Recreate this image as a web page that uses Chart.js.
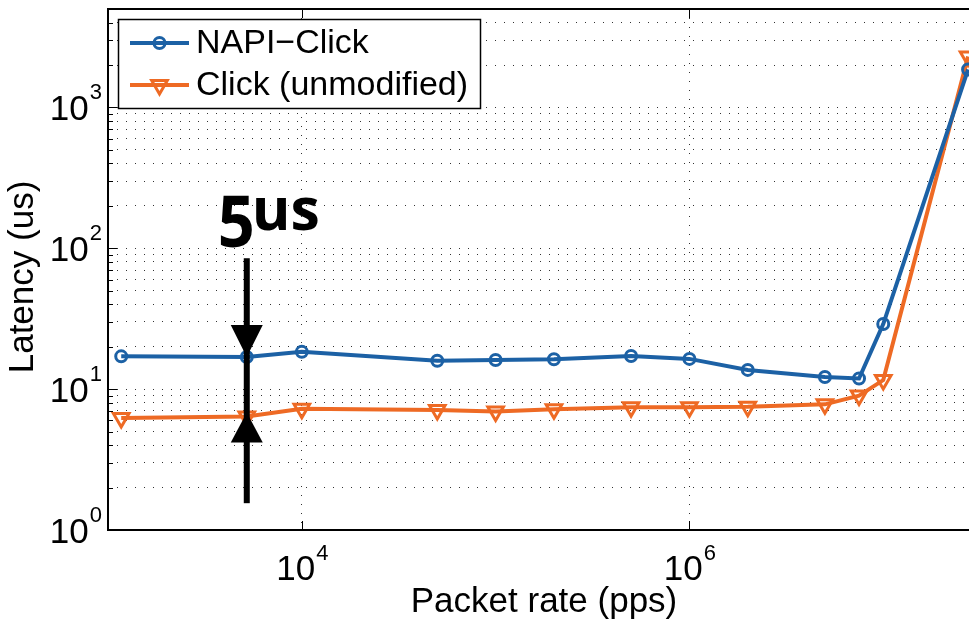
<!DOCTYPE html>
<html>
<head>
<meta charset="utf-8">
<script src="https://cdn.jsdelivr.net/npm/chart.js@4/dist/chart.umd.min.js"></script>
<style>
  html, body { margin: 0; padding: 0; background: #fff; }
  canvas { display: block; }
</style>
</head>
<body>
<canvas id="myChart" width="969" height="621"></canvas>
<script>
// datos
var rates = [1170, 5200, 1e4, 5e4, 1e5, 2e5, 5e5, 1e6, 2e6, 5e6, 7.5e6, 1e7, 2.74e7];
var napiLatency = [17.1, 16.9, 18.4, 15.9, 16.1, 16.3, 17.2, 16.4, 13.7, 12.2, 11.9, 29.0, 1860];
var clickLatency = [6.25, 6.4, 7.25, 7.1, 6.95, 7.2, 7.45, 7.45, 7.5, 7.8, 9.0, 11.6, 2300];
var seriesLabels = ["NAPI\u2212Click", "Click (unmodified)"];

var xTicks = [1e4, 1e6];
var xTickExp = ["4", "6"];
var yTicks = [1, 10, 100, 1000];
var yTickExp = ["0", "1", "2", "3"];
var xRange = [1000, 2.77e7];
var yRange = [1, 5000];

var annotText = ["5", "us"];
var annotRange = [85, 1.55];

var azul = "#1c61a5";
var naranja = "#ee6a24";
var fuente = "'Liberation Sans', Arial, sans-serif";

function puntos(valores) {
    return rates.map(function (r, i) { return { x: r, y: valores[i] }; });
}

function minorTicks() {
    var out = [];
    yTicks.forEach(function (d) {
        for (var m = 1; m <= 9; m++) {
            if (d * m <= yRange[1]) out.push(d * m);
        }
    });
    return out;
}

var marcoPlugin = {
    id: "marco",
    afterDatasetsDraw: function (chart) {
        var ctx = chart.ctx;
        var xs = chart.scales.x, ys = chart.scales.y;

        // flecha de 5us
        var ax = xs.getPixelForValue(rates[1]);
        var yTop = ys.getPixelForValue(annotRange[0]);
        var yBot = ys.getPixelForValue(annotRange[1]);
        var tipDown = ys.getPixelForValue(napiLatency[1]);
        var tipUp = ys.getPixelForValue(clickLatency[1]) - 4;
        ctx.save();
        ctx.fillStyle = "#000";
        ctx.fillRect(ax - 3, yTop, 6, yBot - yTop);
        ctx.beginPath();
        ctx.moveTo(ax - 16, tipDown - 32);
        ctx.lineTo(ax + 16, tipDown - 32);
        ctx.lineTo(ax, tipDown);
        ctx.closePath();
        ctx.fill();
        ctx.beginPath();
        ctx.moveTo(ax - 16, tipUp + 30);
        ctx.lineTo(ax + 16, tipUp + 30);
        ctx.lineTo(ax, tipUp);
        ctx.closePath();
        ctx.fill();

        ctx.textBaseline = "alphabetic";
        ctx.textAlign = "left";
        ctx.save();
        ctx.translate(ax - 29, yTop - 11);
        ctx.scale(0.9, 1);
        ctx.font = "bold 72px 'Open Sans', sans-serif";
        ctx.fillText(annotText[0], 0, 0);
        ctx.restore();
        ctx.font = "bold 59px 'Open Sans', sans-serif";
        ctx.fillText(annotText[1], ax + 5, yTop - 28);
        ctx.restore();

        // leyenda
        ctx.save();
        ctx.fillStyle = "#fff";
        ctx.fillRect(118.5, 19.5, 362, 89);
        ctx.strokeStyle = "#000";
        ctx.lineWidth = 1.5;
        ctx.strokeRect(118.5, 19.5, 362, 89);
        var filas = [43, 85];
        chart.data.datasets.forEach(function (ds, i) {
            var y = filas[i];
            ctx.strokeStyle = ds.borderColor;
            ctx.lineWidth = ds.borderWidth;
            ctx.beginPath();
            ctx.moveTo(130, y);
            ctx.lineTo(189, y);
            ctx.stroke();
            ctx.lineWidth = ds.pointBorderWidth;
            ctx.beginPath();
            var r = ds.pointRadius;
            if (ds.pointStyle === "circle") {
                ctx.arc(159.5, y, r, 0, Math.PI * 2);
            } else {
                ctx.moveTo(159.5, y + r);
                ctx.lineTo(159.5 - r * 0.866, y - r / 2);
                ctx.lineTo(159.5 + r * 0.866, y - r / 2);
                ctx.closePath();
            }
            ctx.stroke();
            ctx.fillStyle = "#000";
            ctx.font = "34px " + fuente;
            ctx.textBaseline = "middle";
            ctx.fillText(ds.label, 196, y + 1);
        });
        ctx.restore();
    },
    afterDraw: function (chart) {
        var ctx = chart.ctx;
        var xs = chart.scales.x, ys = chart.scales.y;
        var area = chart.chartArea;
        ctx.save();
        ctx.strokeStyle = "#000";
        ctx.lineWidth = 2;
        ctx.beginPath();
        ctx.moveTo(chart.width, area.top);
        ctx.lineTo(area.left, area.top);
        ctx.lineTo(area.left, area.bottom);
        ctx.lineTo(chart.width, area.bottom);
        ctx.stroke();

        // marcas
        ctx.lineWidth = 1;
        minorTicks().forEach(function (v) {
            var y = Math.round(ys.getPixelForValue(v)) + 0.5;
            var len = yTicks.indexOf(v) >= 0 ? 9 : 5;
            ctx.beginPath();
            ctx.moveTo(area.left, y);
            ctx.lineTo(area.left + len, y);
            ctx.stroke();
        });
        xTicks.forEach(function (v) {
            var x = Math.round(xs.getPixelForValue(v)) + 0.5;
            ctx.beginPath();
            ctx.moveTo(x, area.bottom);
            ctx.lineTo(x, area.bottom - 9);
            ctx.moveTo(x, area.top);
            ctx.lineTo(x, area.top + 9);
            ctx.stroke();
        });

        // etiquetas de los ejes
        ctx.fillStyle = "#000";
        ctx.textBaseline = "alphabetic";
        xTicks.forEach(function (v, i) {
            var x = xs.getPixelForValue(v);
            ctx.font = "35px " + fuente;
            var w1 = ctx.measureText("10").width;
            ctx.font = "22px " + fuente;
            var w2 = ctx.measureText(xTickExp[i]).width;
            var x0 = x - (w1 + w2) / 2;
            ctx.textAlign = "left";
            ctx.font = "35px " + fuente;
            ctx.fillText("10", x0, 580);
            ctx.font = "22px " + fuente;
            ctx.fillText(xTickExp[i], x0 + w1 + 1, 560);
        });
        yTicks.forEach(function (v, i) {
            var y = ys.getPixelForValue(v);
            ctx.font = "22px " + fuente;
            var w2 = ctx.measureText(yTickExp[i]).width;
            ctx.textAlign = "left";
            ctx.fillText(yTickExp[i], 102 - w2, y - 8);
            ctx.font = "35px " + fuente;
            ctx.textAlign = "right";
            ctx.fillText("10", 102 - w2 - 1, y + 13);
        });

        ctx.font = "35px " + fuente;
        ctx.textAlign = "center";
        ctx.fillText("Packet rate (pps)", 544, 612);
        ctx.save();
        ctx.translate(33, 277);
        ctx.rotate(-Math.PI / 2);
        ctx.fillText("Latency (us)", 0, 0);
        ctx.restore();
        ctx.restore();
    }
};

document.addEventListener("DOMContentLoaded", iniciarGrafico);

function iniciarGrafico() {
    var canvas = document.getElementById("myChart");
    if (!canvas) return;

    new Chart(canvas, {
        type: "line",
        data: {
            datasets: [
                {
                    label: seriesLabels[0],
                    data: puntos(napiLatency),
                    borderColor: azul,
                    borderWidth: 4,
                    pointStyle: "circle",
                    pointRadius: 5.5,
                    pointBorderWidth: 3,
                    pointBorderColor: azul,
                    pointBackgroundColor: "rgba(0,0,0,0)",
                    tension: 0,
                    clip: false
                },
                {
                    label: seriesLabels[1],
                    data: puntos(clickLatency),
                    borderColor: naranja,
                    borderWidth: 4,
                    pointStyle: "triangle",
                    pointRotation: 180,
                    pointRadius: 9,
                    pointBorderWidth: 3,
                    pointBorderColor: naranja,
                    pointBackgroundColor: "rgba(0,0,0,0)",
                    tension: 0,
                    clip: false
                }
            ]
        },
        options: {
            responsive: false,
            animation: false,
            layout: { autoPadding: false, padding: { left: 108, top: 9, right: 0, bottom: 91 } },
            plugins: {
                legend: { display: false },
                tooltip: { enabled: false }
            },
            scales: {
                x: {
                    type: "logarithmic",
                    min: xRange[0],
                    max: xRange[1],
                    afterBuildTicks: function (axis) {
                        axis.ticks = xTicks.map(function (v) { return { value: v }; });
                    },
                    ticks: { display: false },
                    grid: { drawTicks: false, color: "#333", lineWidth: 1 },
                    border: { display: false, dash: [1, 8] }
                },
                y: {
                    type: "logarithmic",
                    min: yRange[0],
                    max: yRange[1],
                    afterBuildTicks: function (axis) {
                        axis.ticks = minorTicks().map(function (v) { return { value: v }; });
                    },
                    ticks: { display: false },
                    grid: { drawTicks: false, color: "#333", lineWidth: 1 },
                    border: { display: false, dash: [1, 8] }
                }
            }
        },
        plugins: [marcoPlugin]
    });
}
</script>
</body>
</html>
